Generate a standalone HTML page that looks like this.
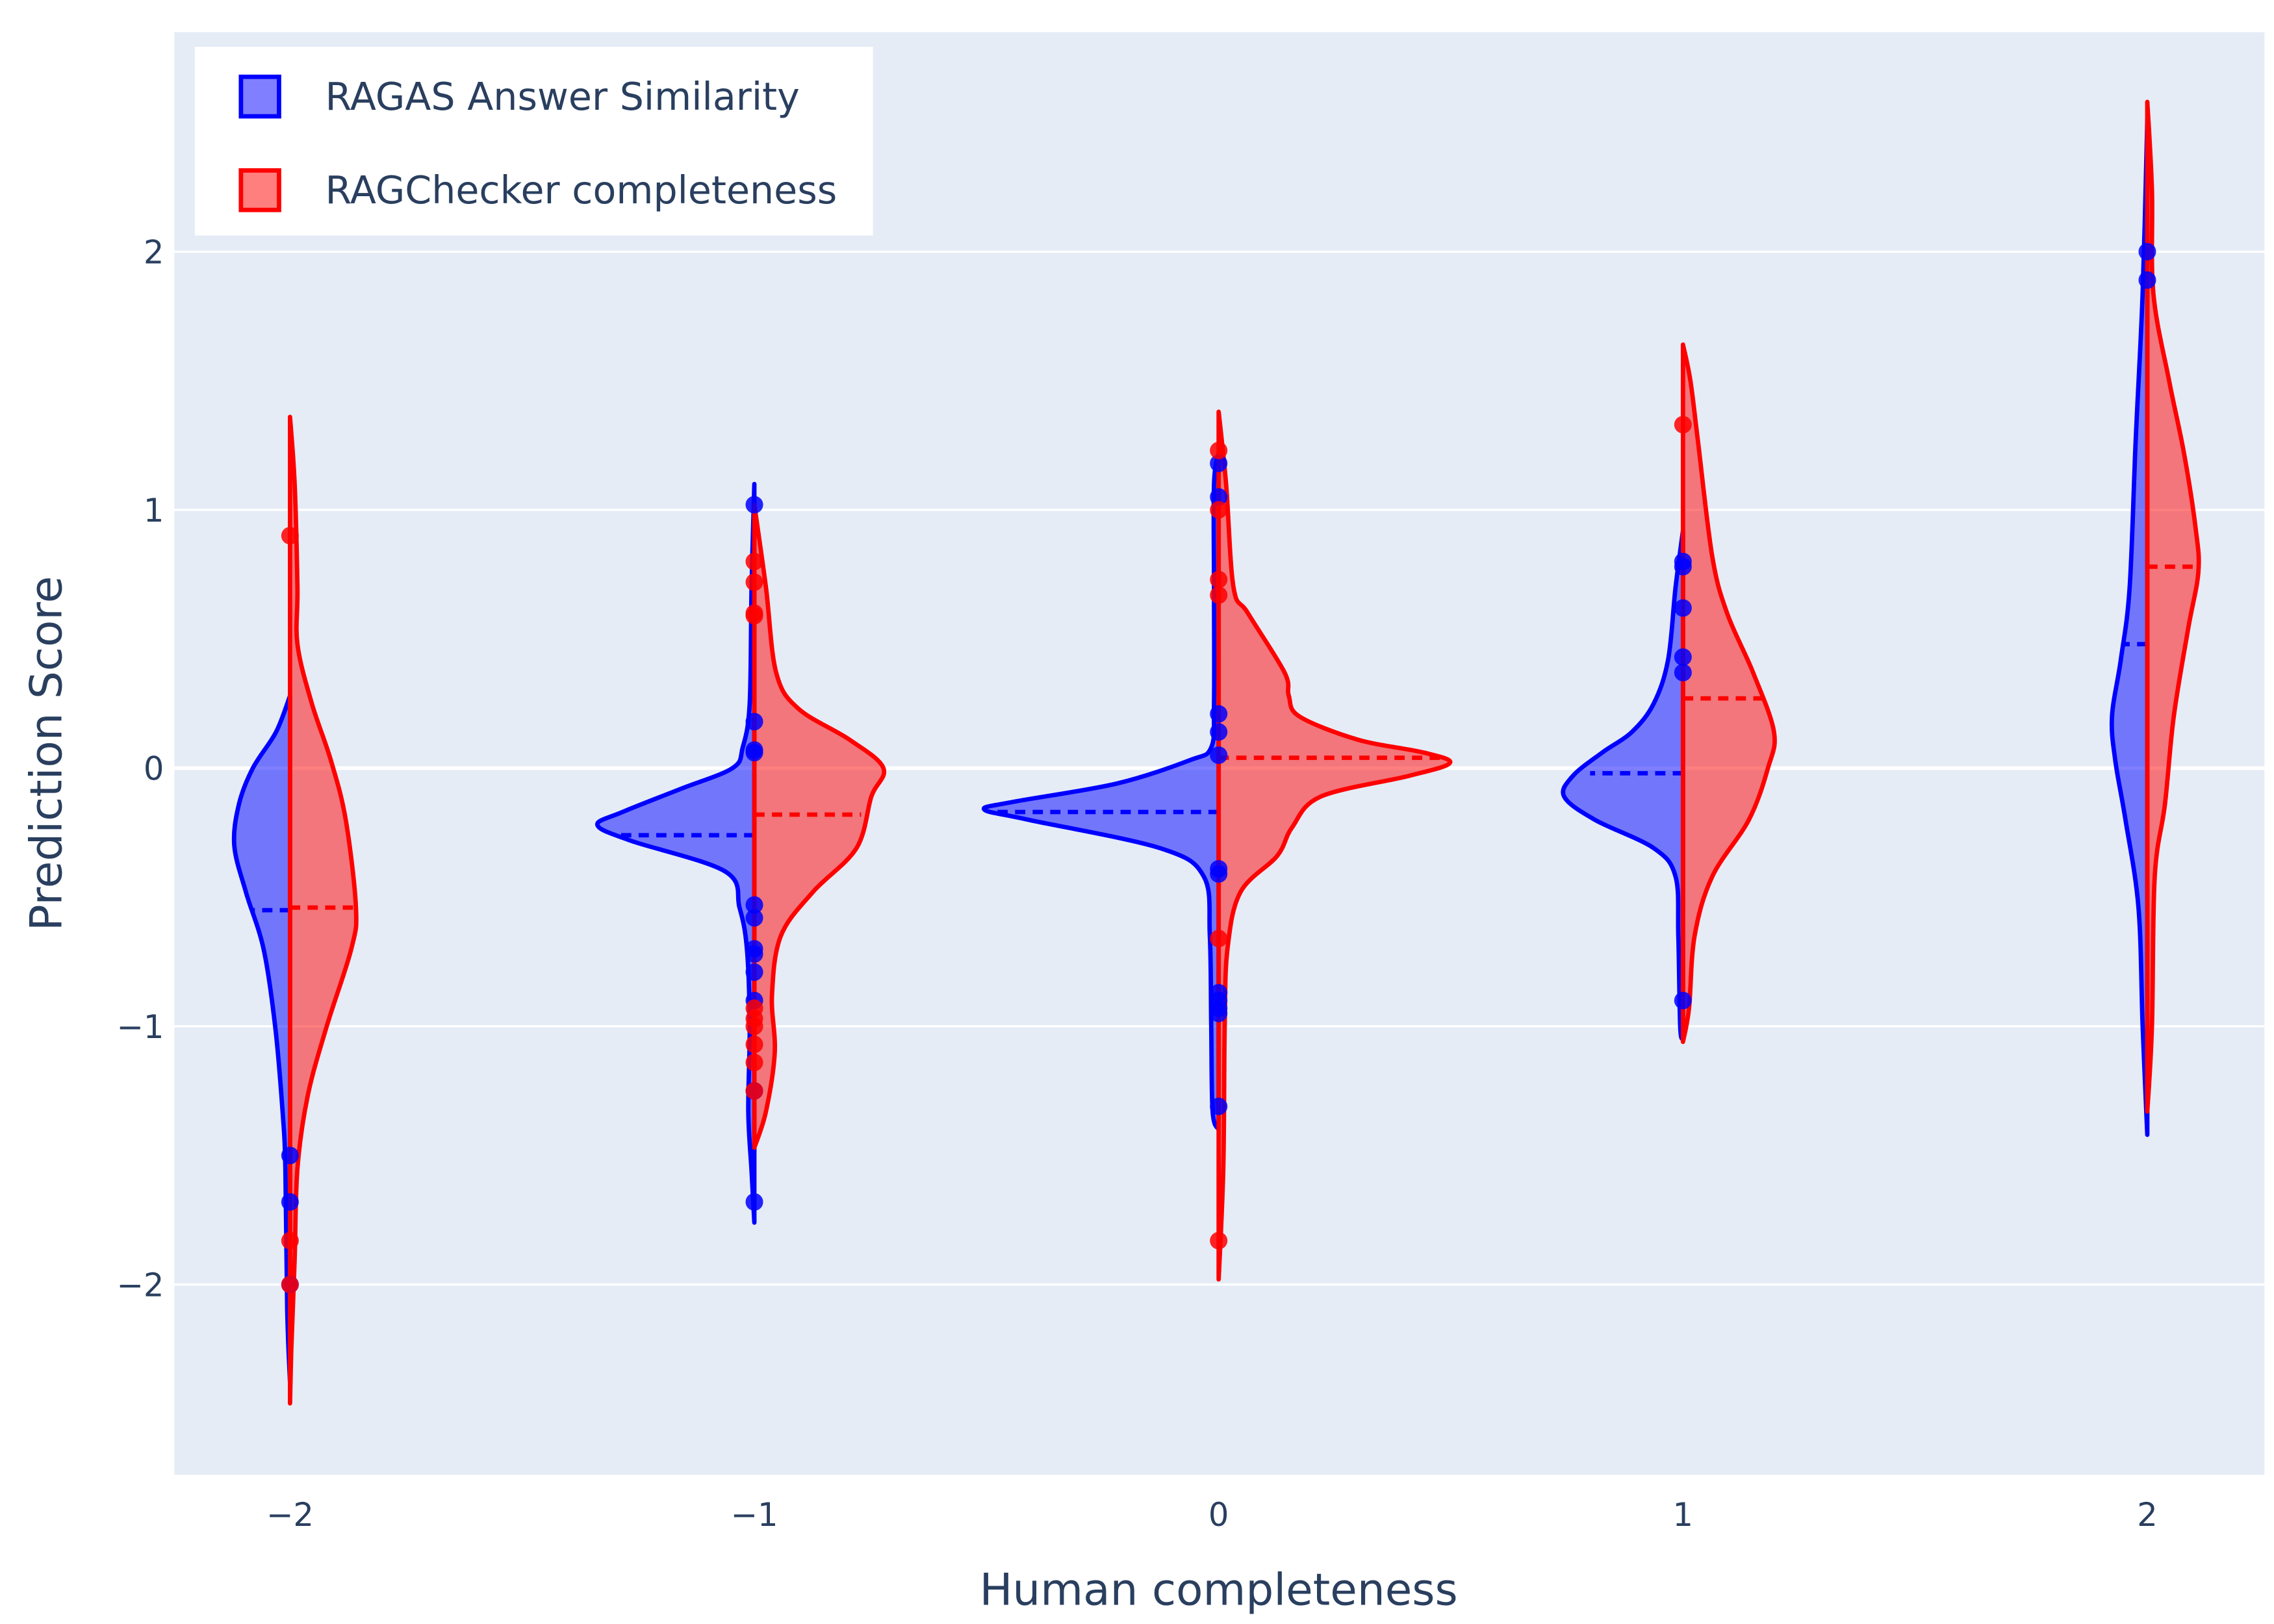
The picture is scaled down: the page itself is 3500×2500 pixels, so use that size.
<!DOCTYPE html>
<html><head><meta charset="utf-8"><style>
html,body{margin:0;padding:0;background:#fff;}
svg{display:block;}
text{font-family:"DejaVu Sans","Liberation Sans",sans-serif;fill:#2a3f5f;}
</style></head><body>
<svg id="chart" width="3500" height="2500" viewBox="0 0 1552.5 1110" preserveAspectRatio="none" xmlns="http://www.w3.org/2000/svg">
<rect x="119" y="22" width="1427" height="986" fill="#e5ecf6"/>
<g id="grid"></g>
<g id="violins"></g>
<g id="ticks"></g>
<text x="832" y="1097" text-anchor="middle" font-size="30">Human completeness</text>
<text transform="translate(42,515) rotate(-90)" text-anchor="middle" font-size="30">Prediction Score</text>
<g>
<rect x="133" y="32" width="463" height="129" fill="#fff"/>
<g>
<rect x="164.5" y="52.5" width="26" height="27" fill="rgba(0,0,255,0.5)" stroke="#0000ff" stroke-width="3"/>
<text x="222" y="75" font-size="26">RAGAS Answer Similarity</text></g>
<g>
<rect x="164.5" y="116.5" width="26" height="27" fill="rgba(255,0,0,0.5)" stroke="#ff0000" stroke-width="3"/>
<text x="222" y="139" font-size="26">RAGChecker completeness</text></g>
</g>
</svg>
<script>
const categories = [-2, -1, 0, 1, 2];
const yTicks = [-2, -1, 0, 1, 2];
// density outlines: [y, halfWidth] in data units, per category
const blueShape = [
 [[0.28,0],[0.14,0.03],[0,0.08],[-0.14,0.11],[-0.3,0.12],[-0.48,0.095],[-0.7,0.057],[-1,0.032],[-1.33,0.016],[-1.55,0.01],[-2.1,0.006],[-2.38,0]],
 [[1.1,0],[0.7,0.006],[0.25,0.01],[0.08,0.025],[0,0.047],[-0.08,0.158],[-0.17,0.284],[-0.22,0.338],[-0.28,0.268],[-0.4,0.063],[-0.54,0.032],[-0.7,0.016],[-1,0.01],[-1.33,0.013],[-1.56,0.006],[-1.76,0]],
 [[1.22,0],[1.1,0.01],[0.7,0.01],[0.25,0.01],[0.08,0.016],[0.03,0.063],[-0.06,0.22],[-0.13,0.44],[-0.16,0.505],[-0.2,0.41],[-0.31,0.126],[-0.42,0.032],[-0.65,0.019],[-1,0.016],[-1.33,0.013],[-1.4,0]],
 [[0.92,0],[0.7,0.016],[0.42,0.032],[0.25,0.063],[0.14,0.11],[0.06,0.174],[-0.03,0.237],[-0.11,0.256],[-0.2,0.19],[-0.31,0.063],[-0.42,0.016],[-0.65,0.01],[-1,0.006],[-1.05,0]],
 [[2.51,0],[1.84,0.01],[1.27,0.025],[0.7,0.038],[0.42,0.057],[0.2,0.076],[0.03,0.069],[-0.2,0.047],[-0.54,0.019],[-1,0.01],[-1.42,0]]
];
const redShape = [
 [[1.36,0],[1.1,0.01],[0.7,0.016],[0.48,0.016],[0.25,0.047],[0.03,0.088],[-0.2,0.12],[-0.54,0.142],[-0.7,0.132],[-1,0.079],[-1.27,0.038],[-1.55,0.016],[-1.9,0.01],[-2.24,0.003],[-2.46,0]],
 [[1.02,0],[0.7,0.025],[0.37,0.047],[0.23,0.095],[0.11,0.205],[0,0.278],[-0.11,0.252],[-0.31,0.22],[-0.48,0.126],[-0.65,0.057],[-0.88,0.038],[-1.1,0.044],[-1.33,0.025],[-1.47,0]],
 [[1.38,0],[1.1,0.016],[0.7,0.032],[0.6,0.063],[0.37,0.142],[0.28,0.151],[0.2,0.174],[0.11,0.3],[0.06,0.442],[0.02,0.498],[-0.03,0.41],[-0.11,0.22],[-0.23,0.158],[-0.34,0.126],[-0.48,0.047],[-0.7,0.019],[-1,0.013],[-1.55,0.01],[-1.98,0]],
 [[1.64,0],[1.5,0.016],[1.27,0.032],[0.82,0.063],[0.6,0.095],[0.37,0.151],[0.14,0.196],[0,0.183],[-0.2,0.142],[-0.42,0.063],[-0.65,0.025],[-0.93,0.013],[-1.06,0]],
 [[2.58,0],[2.24,0.01],[1.84,0.013],[1.5,0.047],[1.22,0.079],[0.93,0.104],[0.76,0.11],[0.54,0.088],[0.2,0.057],[-0.14,0.038],[-0.42,0.016],[-1,0.01],[-1.33,0]]
];
const blueMedian = [-0.55, -0.26, -0.17, -0.02, 0.48];
const redMedian = [-0.54, -0.18, 0.04, 0.27, 0.78];
const blueMedianHalf = [0.082, 0.3, 0.48, 0.2, 0.05];
const redMedianHalf = [0.148, 0.23, 0.48, 0.177, 0.114];
const bluePoints = [
 [-1.5,-1.68,-2.0],
 [1.02,0.18,0.07,0.06,-0.53,-0.58,-0.7,-0.72,-0.79,-0.9,-1.25,-1.68],
 [1.18,1.05,0.21,0.14,0.05,-0.39,-0.41,-0.87,-0.9,-0.93,-0.95,-1.31],
 [0.8,0.78,0.62,0.43,0.37,-0.9],
 [2.0,1.89]
];
const redPoints = [
 [0.9,-1.83,-2.0],
 [0.8,0.72,0.6,0.59,-0.93,-0.97,-1.0,-1.07,-1.14,-1.25],
 [1.23,1.0,0.73,0.67,-0.66,-1.83],
 [1.33],
 []
];
const NS='http://www.w3.org/2000/svg';
function xs(v){return 832+v*317;}
function ys(v){return 525-v*176.5;}
function wpx(w){return w*317;}
function mk(tag,attrs,parent){const e=document.createElementNS(NS,tag);for(const k in attrs)e.setAttribute(k,attrs[k]);parent.appendChild(e);return e;}
const grid=document.getElementById('grid'),vg=document.getElementById('violins'),tg=document.getElementById('ticks');
yTicks.forEach(t=>{
 const l=mk('line',{x1:119,x2:1546,y1:ys(t),y2:ys(t),stroke:'#fff','stroke-width':t===0?2.5:1.5},grid);
 
 
 const tx=mk('text',{x:112,y:ys(t)+8,'text-anchor':'end','font-size':22},tg);
 tx.textContent=t<0?'\u2212'+Math.abs(t):String(t);
 
 
});
categories.forEach(c=>{
 const tx=mk('text',{x:xs(c),y:1043,'text-anchor':'middle','font-size':22},tg);
 tx.textContent=c<0?'\u2212'+Math.abs(c):String(c);
 
 
});
function smoothPath(pts){
 let d='M'+pts[0][0]+','+pts[0][1];
 for(let i=0;i<pts.length-1;i++){
  const p0=pts[Math.max(0,i-1)],p1=pts[i],p2=pts[i+1],p3=pts[Math.min(pts.length-1,i+2)];
  const c1=[p1[0]+(p2[0]-p0[0])/6,p1[1]+(p2[1]-p0[1])/6];
  const c2=[p2[0]-(p3[0]-p1[0])/6,p2[1]-(p3[1]-p1[1])/6];
  d+=' C'+c1[0]+','+c1[1]+' '+c2[0]+','+c2[1]+' '+p2[0]+','+p2[1];
 }
 return d;
}
function drawViolin(ci,shape,sign,fill,stroke,med,medHalf,nm){
 const cx=xs(categories[ci]);
 const outline=shape.map(p=>[cx+sign*wpx(p[1]),ys(p[0])]);
 const d=smoothPath(outline)+' L'+cx+','+ys(shape[shape.length-1][0])+' L'+cx+','+ys(shape[0][0])+' Z';
 const p=mk('path',{d:d,fill:fill,stroke:'none'},vg);
 
 
 const o=mk('path',{d:smoothPath(outline)+' L'+cx+','+ys(shape[0][0])+' Z',fill:'none',stroke:stroke,'stroke-width':3,'stroke-linejoin':'round'},vg);
 
 
 const m=mk('line',{x1:cx,x2:cx+sign*wpx(medHalf),y1:ys(med),y2:ys(med),stroke:stroke,'stroke-width':3,'stroke-dasharray':'7,5'},vg);
 
 
}
function drawPoints(ci,pts,color,nm){
 pts.forEach(v=>{
  const c=mk('circle',{cx:xs(categories[ci]),cy:ys(v),r:6,fill:color,'fill-opacity':0.85},vg);
  
  
 });
}
categories.forEach((c,i)=>{
 drawViolin(i,blueShape[i],-1,'rgba(0,0,255,0.5)','#0000ff',blueMedian[i],blueMedianHalf[i],'ragas');
 drawViolin(i,redShape[i],1,'rgba(255,0,0,0.5)','#ff0000',redMedian[i],redMedianHalf[i],'ragchecker');
});
categories.forEach((c,i)=>{
 drawPoints(i,bluePoints[i],'#0000ff','ragas');
 drawPoints(i,redPoints[i],'#ff0000','ragchecker');
});
</script>
</body></html>
